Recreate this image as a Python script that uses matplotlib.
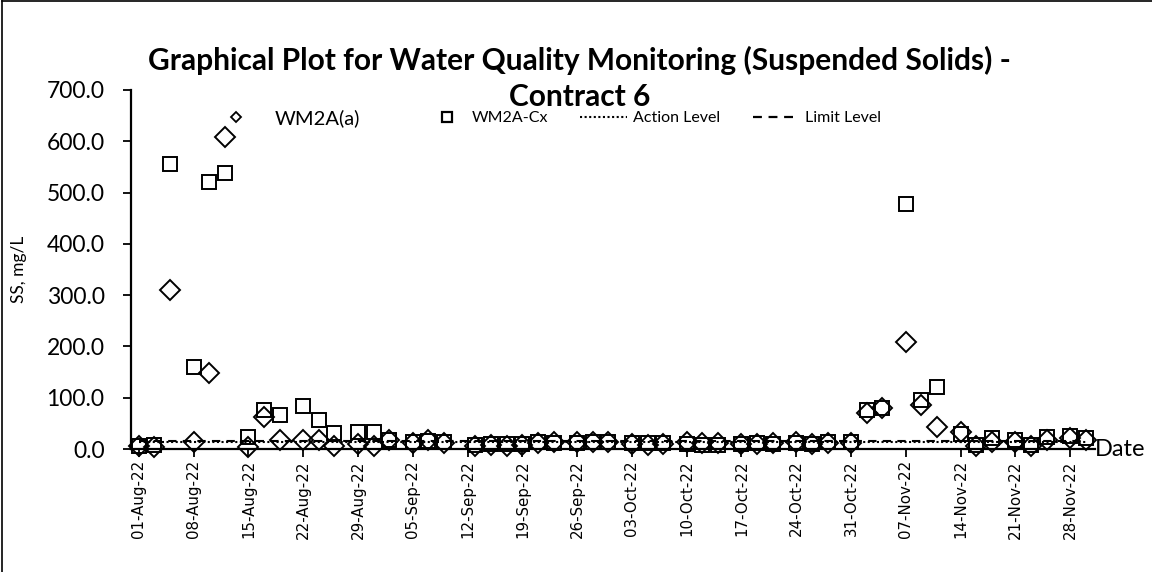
import matplotlib
matplotlib.use('Agg')
import matplotlib.pyplot as plt
import matplotlib.dates as mdates
from matplotlib.lines import Line2D
import pandas as pd

plt.rcParams['font.family'] = ['Lato', 'DejaVu Sans']

# sampling days and suspended solids readings (mg/L)
dates = [
    '2022-08-01', '2022-08-03', '2022-08-05', '2022-08-08', '2022-08-10', '2022-08-12',
    '2022-08-15', '2022-08-17', '2022-08-19', '2022-08-22', '2022-08-24', '2022-08-26',
    '2022-08-29', '2022-08-31', '2022-09-02', '2022-09-05', '2022-09-07', '2022-09-09',
    '2022-09-13', '2022-09-15', '2022-09-17', '2022-09-19', '2022-09-21', '2022-09-23',
    '2022-09-26', '2022-09-28', '2022-09-30', '2022-10-03', '2022-10-05', '2022-10-07',
    '2022-10-10', '2022-10-12', '2022-10-14', '2022-10-17', '2022-10-19', '2022-10-21',
    '2022-10-24', '2022-10-26', '2022-10-28', '2022-10-31', '2022-11-02', '2022-11-04',
    '2022-11-07', '2022-11-09', '2022-11-11', '2022-11-14', '2022-11-16', '2022-11-18',
    '2022-11-21', '2022-11-23', '2022-11-25', '2022-11-28', '2022-11-30',
]
wm2a_a = [
    5, 3, 310, 14, 148, 608,
    4, 62, 17, 17, 17, 5,
    10, 5, 18, 12, 18, 12,
    6, 8, 6, 8, 12, 13,
    13, 14, 13, 10, 8, 10,
    13, 12, 11, 9, 10, 11,
    13, 9, 12, 12, 70, 80,
    209, 86, 43, 33, 6, 13,
    14, 6, 18, 22, 18,
]
wm2a_cx = [
    6, 8, 556, 160, 521, 538,
    23, 76, 66, 84, 57, 31,
    33, 33, 18, 14, 16, 13,
    8, 10, 9, 10, 14, 12,
    12, 13, 14, 12, 11, 12,
    9, 8, 8, 10, 11, 10,
    12, 10, 13, 14, 76, 80,
    478, 96, 121, 30, 8, 21,
    18, 8, 23, 25, 22,
]
action_level = 14.3
limit_level = 15.1

tick_dates = pd.date_range('2022-08-01', '2022-11-28', freq='7D')
x = pd.to_datetime(dates)

fig = plt.figure(figsize=(11.52, 5.72), dpi=100)
ax = fig.add_axes([0.1137, 0.215, 0.8368, 0.6277])

ax.plot(x, wm2a_a, linestyle='none', marker='D', markersize=10, markerfacecolor='none',
        markeredgecolor='black', markeredgewidth=1.4, clip_on=False, zorder=3)
ax.plot(x, wm2a_cx, linestyle='none', marker='s', markersize=9.6, markerfacecolor='none',
        markeredgecolor='black', markeredgewidth=1.4, clip_on=False, zorder=3)
ax.plot([x[0], x[-1]], [action_level, action_level], color='black', linestyle=(0, (1, 1.2)), linewidth=1.5)
ax.plot([x[0], x[-1]], [limit_level, limit_level], color='black', linestyle=(0, (4, 3)), linewidth=1.5)

ax.set_xlim(pd.Timestamp('2022-07-31'), pd.Timestamp('2022-12-01 04:00'))
ax.set_ylim(0, 700)
ax.set_yticks(range(0, 701, 100))
ax.set_yticklabels([f'{v:.1f}' for v in range(0, 701, 100)], fontsize=16.5)
ax.set_xticks(tick_dates)
ax.xaxis.set_major_formatter(mdates.DateFormatter('%d-%b-%y'))
for lab in ax.get_xticklabels():
    lab.set_rotation(90)
    lab.set_fontfamily('DejaVu Sans')
    lab.set_fontsize(10.8)
ax.tick_params(axis='y', direction='out', length=6, width=1.3, pad=13)
ax.tick_params(axis='x', direction='out', length=6, width=1.3, pad=2)

for side in ['top', 'right']:
    ax.spines[side].set_visible(False)
for side in ['left', 'bottom']:
    ax.spines[side].set_linewidth(1.6)

ax.set_ylabel('SS, mg/L', fontsize=12.5)
ax.yaxis.set_label_coords(-0.108, 0.5)
ax.text(1.0, 0, 'Date', transform=ax.transAxes, ha='left', va='center', fontsize=17)

fig.text(0.503, 1 - 78 / 572, 'Graphical Plot for Water Quality Monitoring (Suspended Solids) -\nContract 6',
         ha='center', va='center', fontsize=21.5, fontweight='bold', linespacing=1.35)

# legend entries laid out along one row
entries = [
    (Line2D([], [], linestyle='none', marker='D', markersize=5, markerfacecolor='none',
            markeredgecolor='black', markeredgewidth=1.3), 'WM2A(a)', 228, 0.8, 1.5, 14.5),
    (Line2D([], [], linestyle='none', marker='s', markersize=7, markerfacecolor='none',
            markeredgecolor='black', markeredgewidth=1.6), 'WM2A-Cx', 439, 1.0, 1.06, 11.5),
    (Line2D([], [], color='black', linestyle=(0, (1, 1.2)), linewidth=1.5), 'Action Level', 580, 2.94, 0.38, 11.5),
    (Line2D([], [], color='black', linestyle=(0, (4, 3)), linewidth=1.6), 'Limit Level', 753, 2.75, 0.5, 11.5),
]
for handle, label, xpos, hlen, hpad, size in entries:
    leg = fig.legend([handle], [label], loc='center left', bbox_to_anchor=(xpos / 1152, 1 - 118 / 572),
                     frameon=False, fontsize=size, handlelength=hlen, handletextpad=hpad,
                     borderpad=0, borderaxespad=0)

# chart area border
fig.add_artist(Line2D([0.002, 0.002], [0, 0.998], color='black', linewidth=1.2, transform=fig.transFigure))
fig.add_artist(Line2D([0.002, 1], [0.998, 0.998], color='black', linewidth=1.2, transform=fig.transFigure))

fig.savefig('out.png', dpi=100)
